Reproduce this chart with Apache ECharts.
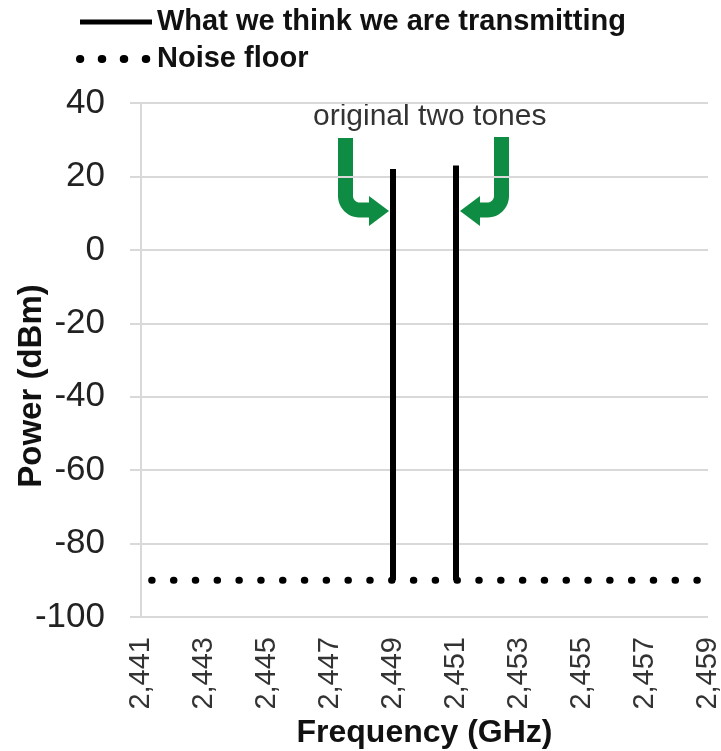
<!DOCTYPE html>
<html>
<head>
<meta charset="utf-8">
<script src="https://cdn.jsdelivr.net/npm/echarts@6/dist/echarts.min.js"></script>
<style>
html,body{margin:0;padding:0;background:#fff;}
#chart{width:721px;height:751px;}
</style>
</head>
<body>
<div id="chart"></div>
<script>
// ---- data ----
const freqRange = [2.441, 2.459];          // GHz, x axis extent
const freqTickStep = 0.002;                // GHz between tick labels
const powerRange = [-100, 40];             // dBm
const powerTickStep = 20;
const toneFreqs = [2.449, 2.451];          // GHz
const tonePowers = [22, 23];               // dBm (top of each tone)
const noiseFloorLevel = -90;               // dBm
const seriesNames = ['What we think we are transmitting', 'Noise floor'];
const annotationText = 'original two tones';

// build series data
const transmitData = [];
toneFreqs.forEach((f, i) => {
  if (i > 0) transmitData.push('-');
  transmitData.push([f, noiseFloorLevel]);
  transmitData.push([f, tonePowers[i]]);
});
const noiseData = [[freqRange[0], noiseFloorLevel], [freqRange[1], noiseFloorLevel]];

const FONT = 'Liberation Sans';
const GRID = '#d9d9d9';
const GREEN = '#0e8c43';
const DOT_PERIOD = 567 / 26;

// bent arrow body: vertical stem, rounded corner, horizontal arm
function bentArrow(x, yTop, yArm, xEnd, r) {
  const dir = xEnd > x ? 1 : -1;
  const pts = [[x, yTop], [x, yArm - r]];
  const cx = x + dir * r, cy = yArm - r;
  for (let k = 1; k <= 12; k++) {
    const a = (Math.PI / 2) * k / 12;
    pts.push([cx - dir * r * Math.cos(a), cy + r * Math.sin(a)]);
  }
  pts.push([xEnd, yArm]);
  return pts;
}

const chart = echarts.init(document.getElementById('chart'));
chart.setOption({
  animation: false,
  backgroundColor: '#fff',
  color: ['#000', '#000'],
  textStyle: { fontFamily: FONT },
  grid: { left: 141, right: 13, top: 103, bottom: 134, containLabel: false, outerBoundsMode: 'none' },
  legend: {
    orient: 'vertical',
    left: 76, top: 7, padding: 0,
    itemWidth: 72, itemHeight: 14, itemGap: 7,
    textStyle: { fontFamily: FONT, fontWeight: 'bold', fontSize: 29, color: '#111', lineHeight: 30 },
    data: [
      { name: seriesNames[0], itemStyle: { opacity: 0 }, lineStyle: { width: 5, color: '#000', type: 'solid' } },
      { name: seriesNames[1], itemStyle: { opacity: 0 }, lineStyle: { width: 8, color: '#000', type: [0.5, 22 - 0.5], dashOffset: 0.25, cap: 'round' } }
    ]
  },
  xAxis: {
    type: 'value',
    min: freqRange[0], max: freqRange[1], interval: freqTickStep,
    name: 'Frequency (GHz)', nameLocation: 'middle', nameGap: 100,
    nameTextStyle: { fontFamily: FONT, fontWeight: 'bold', fontSize: 32, color: '#111' },
    axisLine: { show: false }, axisTick: { show: false }, splitLine: { show: false },
    axisLabel: {
      rotate: 90, margin: 20, fontSize: 29, color: '#333', fontFamily: FONT,
      formatter: v => v.toFixed(3).replace('.', ',')
    }
  },
  yAxis: {
    type: 'value',
    min: powerRange[0], max: powerRange[1], interval: powerTickStep,
    name: 'Power (dBm)', nameLocation: 'middle', nameGap: 93, nameMoveOverlap: false,
    nameTextStyle: { fontFamily: FONT, fontWeight: 'bold', fontSize: 33, color: '#111', padding: [0, 52, 0, 0] },
    axisLine: { show: true, lineStyle: { color: GRID, width: 2 } },
    axisTick: { show: true, length: 11, lineStyle: { color: GRID, width: 2 } },
    splitLine: { show: true, lineStyle: { color: GRID, width: 2 } },
    axisLabel: { margin: 36, fontSize: 35, color: '#222', fontFamily: FONT }
  },
  series: [
    {
      name: seriesNames[0], type: 'line', data: transmitData, symbol: 'none',
      connectNulls: false, z: 3,
      lineStyle: { color: '#000', width: 6 }
    },
    {
      name: seriesNames[1], type: 'line', data: noiseData, symbol: 'none', z: 2,
      lineStyle: { color: '#000', width: 7, type: [0.5, DOT_PERIOD - 0.5], dashOffset: DOT_PERIOD / 2 + 0.25, cap: 'round' }
    }
  ],
  graphic: [
    { type: 'text', left: 313, top: 102, style: { text: annotationText, font: '30px "Liberation Sans"', fill: '#333' } },
    { type: 'polyline', shape: { points: bentArrow(345.5, 138, 210, 372, 14) },
      style: { fill: null, stroke: GREEN, lineWidth: 15 } },
    { type: 'polygon', shape: { points: [[369, 196], [389, 211], [369, 226]] }, style: { fill: GREEN } },
    { type: 'polyline', shape: { points: bentArrow(501.5, 137, 210, 477, 14) },
      style: { fill: null, stroke: GREEN, lineWidth: 15 } },
    { type: 'polygon', shape: { points: [[480, 196], [460, 211], [480, 226]] }, style: { fill: GREEN } }
  ]
});
</script>
</body>
</html>
